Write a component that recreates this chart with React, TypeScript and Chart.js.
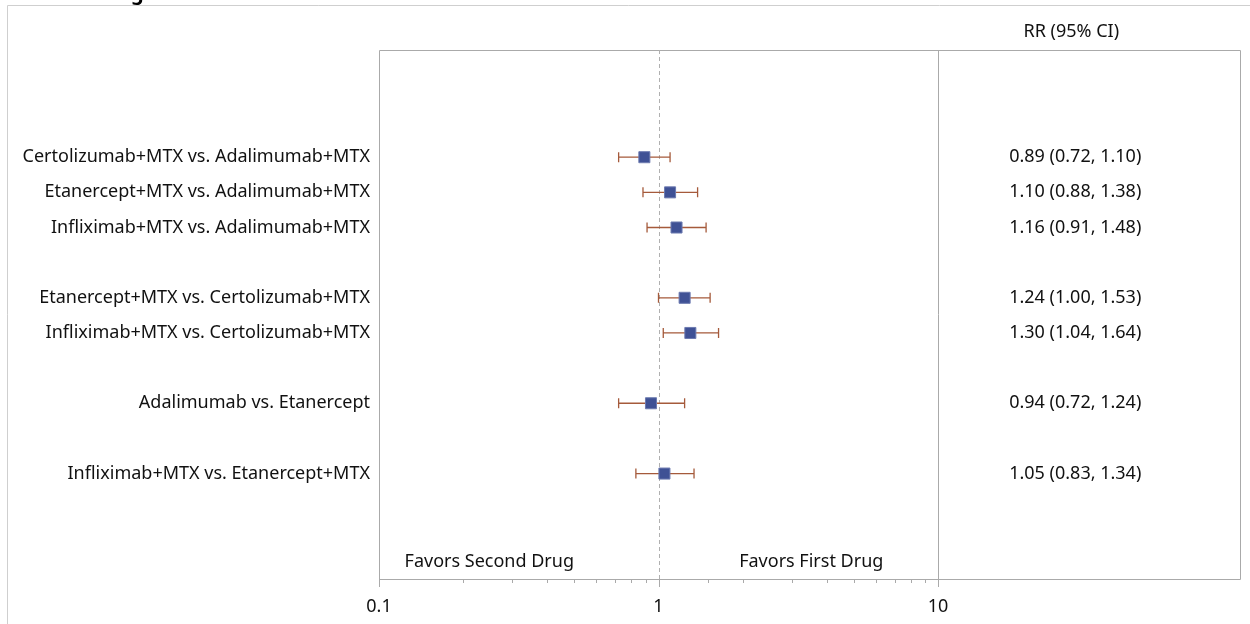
import React, { useEffect, useRef } from "react";
import { Chart, registerables } from "chart.js";

Chart.register(...registerables);

const rowLabels: string[] = [
  "Certolizumab+MTX vs. Adalimumab+MTX",
  "Etanercept+MTX vs. Adalimumab+MTX",
  "Infliximab+MTX vs. Adalimumab+MTX",
  "",
  "Etanercept+MTX vs. Certolizumab+MTX",
  "Infliximab+MTX vs. Certolizumab+MTX",
  "",
  "Adalimumab vs. Etanercept",
  "",
  "Infliximab+MTX vs. Etanercept+MTX",
];
const rr: (number | null)[] = [0.89, 1.10, 1.16, null, 1.24, 1.30, null, 0.94, null, 1.05];
const lower: (number | null)[] = [0.72, 0.88, 0.91, null, 1.00, 1.04, null, 0.72, null, 0.83];
const upper: (number | null)[] = [1.10, 1.38, 1.48, null, 1.53, 1.64, null, 1.24, null, 1.34];
const rrText: string[] = [
  "0.89 (0.72, 1.10)",
  "1.10 (0.88, 1.38)",
  "1.16 (0.91, 1.48)",
  "",
  "1.24 (1.00, 1.53)",
  "1.30 (1.04, 1.64)",
  "",
  "0.94 (0.72, 1.24)",
  "",
  "1.05 (0.83, 1.34)",
];
const xTickLabels: number[] = [0.1, 1, 10];
const favorLabels: string[] = ["Favors Second Drug", "Favors First Drug"];
const favorX: number[] = [0.248, 3.52];
const favorRow = 11.5;
const headerText = "RR (95% CI)";

const FONT = "'Noto Sans', 'Open Sans', sans-serif";
const FS = 18;
const TEXT = "#111111";

export default function App() {
  const ref = useRef<HTMLCanvasElement | null>(null);

  useEffect(() => {
    const canvas = ref.current;
    if (!canvas) return;

    const forestPlugin = {
      id: "forest",
      beforeDatasetsDraw(chart: any) {
        const { ctx, chartArea, scales } = chart;
        const xs = scales.x;
        const ys = scales.y;
        ctx.save();
        // outer frame
        ctx.strokeStyle = "#cfcfcf";
        ctx.lineWidth = 1;
        ctx.beginPath();
        ctx.moveTo(7.5, 624);
        ctx.lineTo(7.5, 5.5);
        ctx.lineTo(1250, 5.5);
        ctx.stroke();
        // title glimpse
        ctx.fillStyle = "#000";
        ctx.font = `bold 20px ${FONT}`;
        ctx.textAlign = "left";
        ctx.textBaseline = "alphabetic";
        ctx.fillText("g", 131, -0.5);

        const right = 1240.5;
        // plot frame
        ctx.strokeStyle = "#aaaaaa";
        ctx.beginPath();
        ctx.rect(chartArea.left + 0.5, chartArea.top + 0.5, right - chartArea.left - 0.5, chartArea.bottom - chartArea.top);
        ctx.stroke();
        // separator at right edge of plot
        ctx.beginPath();
        ctx.moveTo(Math.round(chartArea.right) + 0.5, chartArea.top);
        ctx.lineTo(Math.round(chartArea.right) + 0.5, chartArea.bottom);
        ctx.stroke();
        // tick marks
        xs.ticks.forEach((t: any) => {
          const px = Math.round(xs.getPixelForValue(t.value)) + 0.5;
          const major = xTickLabels.some((v) => Math.abs(v - t.value) < 1e-9);
          ctx.beginPath();
          ctx.moveTo(px, chartArea.bottom);
          ctx.lineTo(px, chartArea.bottom + (major ? 8 : 4));
          ctx.stroke();
        });
        // reference line at 1
        const p1 = Math.round(xs.getPixelForValue(1)) + 0.5;
        ctx.strokeStyle = "#b0b0b0";
        ctx.setLineDash([4, 3]);
        ctx.beginPath();
        ctx.moveTo(p1, chartArea.top);
        ctx.lineTo(p1, chartArea.bottom);
        ctx.stroke();
        ctx.setLineDash([]);

        // error bars
        ctx.strokeStyle = "#a55a3b";
        ctx.lineWidth = 1.3;
        rr.forEach((v, i) => {
          const lo = lower[i];
          const hi = upper[i];
          if (v == null || lo == null || hi == null) return;
          const y = ys.getPixelForValue(i);
          const xl = xs.getPixelForValue(lo);
          const xh = xs.getPixelForValue(hi);
          ctx.beginPath();
          ctx.moveTo(xl, y);
          ctx.lineTo(xh, y);
          ctx.moveTo(xl, y - 5);
          ctx.lineTo(xl, y + 5);
          ctx.moveTo(xh, y - 5);
          ctx.lineTo(xh, y + 5);
          ctx.stroke();
        });

        // texts
        ctx.fillStyle = TEXT;
        ctx.font = `${FS}px ${FONT}`;
        ctx.textBaseline = "middle";
        ctx.textAlign = "center";
        const colX = (chartArea.right + right) / 2 - 14;
        ctx.fillText(headerText, colX - 4, 32);
        rrText.forEach((s, i) => {
          if (!s) return;
          ctx.fillText(s, colX, ys.getPixelForValue(i));
        });
        favorLabels.forEach((s, i) => {
          ctx.fillText(s, xs.getPixelForValue(favorX[i]), ys.getPixelForValue(favorRow));
        });
        ctx.restore();
      },
    };

    const points: { x: number; y: number }[] = [];
    rr.forEach((v, i) => {
      if (v != null) points.push({ x: v, y: i });
    });

    const chart = new Chart(canvas, {
      type: "scatter",
      data: {
        datasets: [
          {
            data: points,
            pointStyle: "rect",
            pointRadius: 7.8,
            pointHoverRadius: 7.8,
            backgroundColor: "#3f5195",
            borderColor: "#6d7bb0",
            borderWidth: 1,
          },
        ],
      },
      options: {
        animation: false,
        responsive: false,
        maintainAspectRatio: false,
        layout: { padding: { left: 0, right: 312, top: 50, bottom: 0 } },
        plugins: { legend: { display: false }, tooltip: { enabled: false } },
        scales: {
          x: {
            type: "logarithmic",
            min: 0.1,
            max: 10,
            afterFit: (s: any) => {
              s.height = 45;
            },
            border: { display: false },
            grid: { display: false, drawTicks: false },
            ticks: {
              autoSkip: false,
              maxRotation: 0,
              padding: 17,
              color: TEXT,
              font: { family: FONT, size: FS },
              callback: (v: any) => {
                const n = Number(v);
                return xTickLabels.some((t) => Math.abs(t - n) < 1e-9) ? String(n) : "";
              },
            },
          },
          y: {
            type: "linear",
            min: -3.05,
            max: 12,
            reverse: true,
            afterFit: (s: any) => {
              s.width = 379;
            },
            border: { display: false },
            grid: { display: false, drawTicks: false },
            ticks: {
              stepSize: 1,
              autoSkip: false,
              padding: 9,
              color: TEXT,
              font: { family: FONT, size: FS },
              callback: (v: any) => {
                const n = Number(v);
                return Number.isInteger(n) ? rowLabels[n] ?? "" : "";
              },
            },
            afterBuildTicks: (s: any) => {
              s.ticks = rowLabels.map((_, i) => ({ value: i }));
            },
          },
        },
      },
      plugins: [forestPlugin],
    });
    return () => chart.destroy();
  }, []);

  return (
    <div style={{ position: "fixed", left: 0, top: 0, width: 1250, height: 624, background: "#fff" }}>
      <canvas ref={ref} width={1250} height={624} style={{ width: 1250, height: 624, display: "block" }} />
    </div>
  );
}
